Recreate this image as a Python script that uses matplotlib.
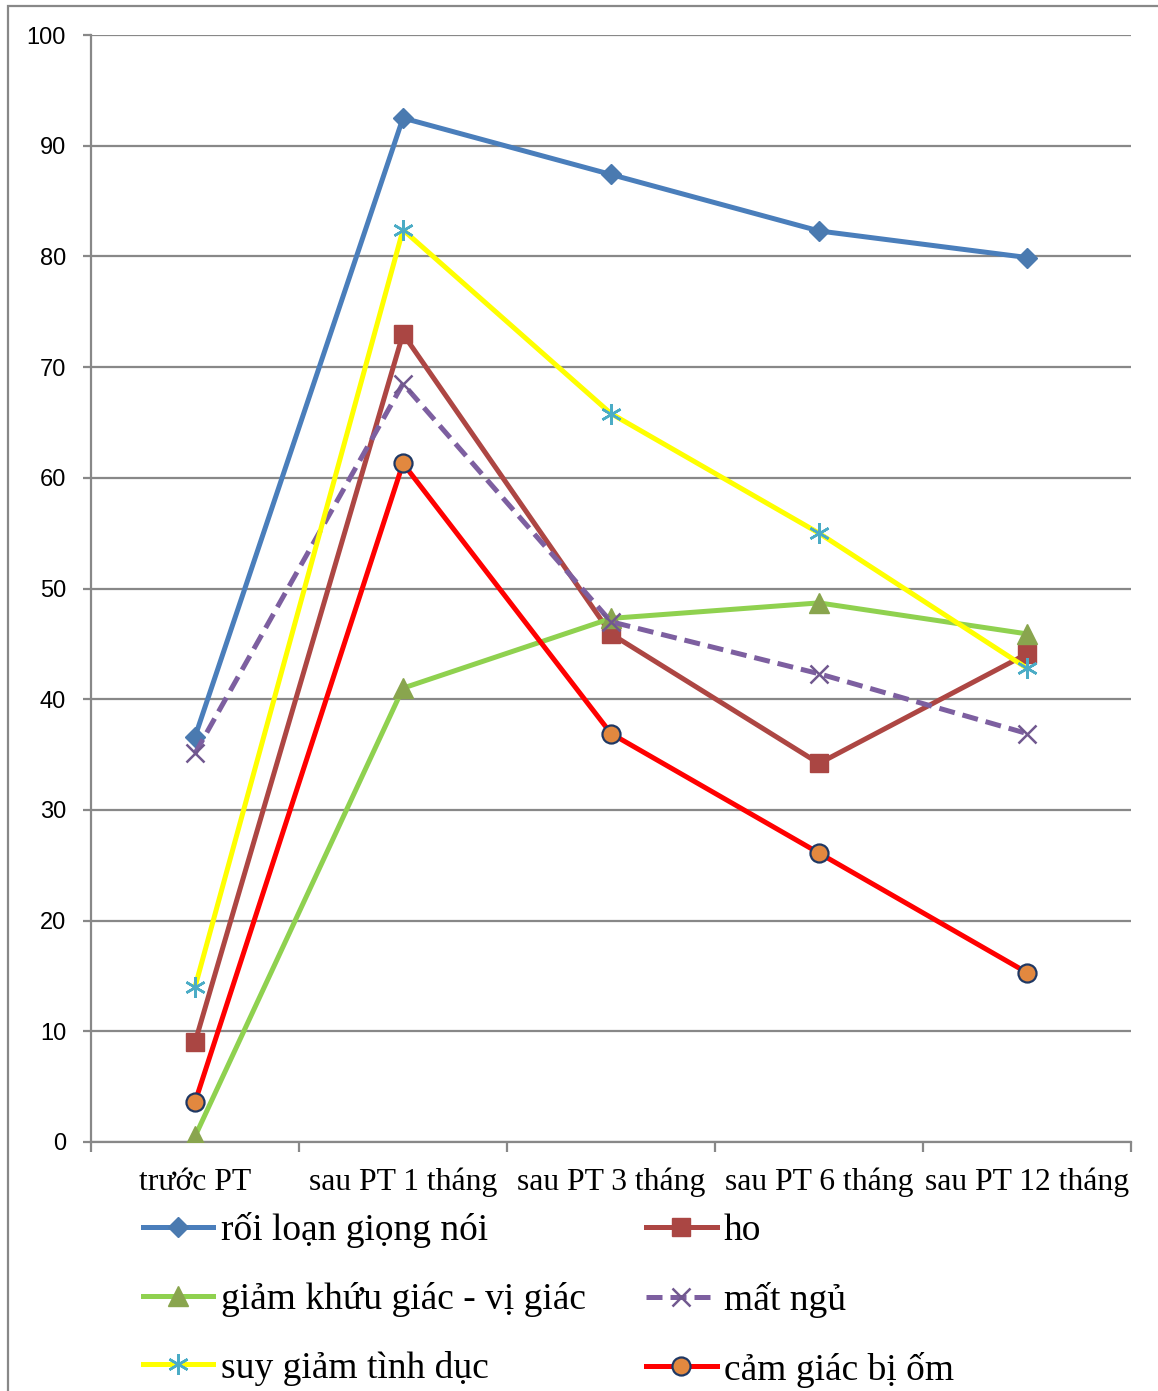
import numpy as np
import matplotlib

matplotlib.use("Agg")

import matplotlib.pyplot as plt
from matplotlib.patches import Rectangle

# categories and percentages per symptom
categories = ["trước PT", "sau PT 1 tháng", "sau PT 3 tháng", "sau PT 6 tháng", "sau PT 12 tháng"]
roi_loan_giong_noi = [36.6, 92.5, 87.4, 82.3, 79.9]
ho = [9.0, 73.0, 45.9, 34.2, 44.1]
giam_khuu_giac = [0.5, 41.0, 47.3, 48.7, 45.9]
mat_ngu = [35.1, 68.5, 47.0, 42.3, 36.9]
suy_giam_tinh_duc = [14.0, 82.4, 65.8, 55.0, 42.8]
cam_giac_bi_om = [3.6, 61.3, 36.9, 26.1, 15.3]

labels = ["rối loạn giọng nói", "ho", "giảm khứu giác - vị giác",
          "mất ngủ", "suy giảm tình dục", "cảm giác bị ốm"]

W, H = 1158, 1391
fig = plt.figure(figsize=(W / 100, H / 100), dpi=100)

# outer chart frame (top and left edges visible)
fig.patches.append(Rectangle((8 / W, -0.1), 1.2, (H - 6) / H + 0.1, transform=fig.transFigure,
                             fill=False, edgecolor="#888888", linewidth=1.6))

ax = fig.add_axes([91 / W, 1 - 1142 / H, (1131 - 91) / W, (1142 - 35) / H])

x = np.arange(len(categories)) + 0.5
grid_c = "#888888"

ax.plot(x, roi_loan_giong_noi, color="#4A7EBB", lw=3.6, marker="D", ms=10,
        mfc="#4A7AB0", mec="#4A7AB0", label=labels[0], zorder=3)
ax.plot(x, ho, color="#AD4643", lw=3.6, marker="s", ms=13,
        mfc="#AA4643", mec="#AA4643", label=labels[1], zorder=3)
ax.plot(x, giam_khuu_giac, color="#8FD14F", lw=3.6, marker="^", ms=14,
        mfc="#89A54E", mec="#89A54E", label=labels[2], zorder=3)
ax.plot(x, mat_ngu, color="#7D5FA0", lw=3.6, ls=(0, (3.2, 1.6)), marker="x", ms=13, mew=1.8,
        mfc="#71588F", mec="#71588F", label=labels[3], zorder=3)
ax.plot(x, suy_giam_tinh_duc, color="#FFFF00", lw=3.6, marker=(6, 2, 0), ms=15, mew=1.8,
        mfc="#4BACC6", mec="#4BACC6", label=labels[4], zorder=3)
ax.plot(x, cam_giac_bi_om, color="#FF0000", lw=3.6, marker="o", ms=13, mew=1.6,
        mfc="#E2883F", mec="#1F3864", label=labels[5], zorder=3)

ax.set_xlim(0, len(categories))
ax.set_ylim(0, 100)
ax.set_yticks(np.arange(0, 101, 10))
ax.yaxis.grid(True, color=grid_c, lw=1.6)
ax.set_axisbelow(True)

ax.set_xticks(x)
ax.set_xticklabels(categories, fontfamily="Liberation Serif", fontsize=22.8)
ax.set_xticks(np.arange(len(categories) + 1), minor=True)
ax.tick_params(axis="x", which="major", length=0, pad=18.5)
ax.tick_params(axis="x", which="minor", length=7, width=1.6, color=grid_c, direction="out")
ax.tick_params(axis="y", length=6, width=1.6, color=grid_c, pad=12, labelsize=17)
for t in ax.get_yticklabels():
    t.set_fontfamily("Liberation Sans")

for side in ["top", "right"]:
    ax.spines[side].set_visible(False)
for side in ["left", "bottom"]:
    ax.spines[side].set_color(grid_c)
    ax.spines[side].set_linewidth(1.6)

# legend filled row by row: reorder so the two columns read left-to-right
handles, leg_labels = ax.get_legend_handles_labels()
order = [0, 2, 4, 1, 3, 5]
leg = fig.legend([handles[i] for i in order], [leg_labels[i] for i in order],
                 loc="upper left", bbox_to_anchor=(143 / W, 1 - 1212 / H), ncol=2,
                 frameon=False, prop={"family": "Liberation Serif", "size": 27},
                 handlelength=1.87, handletextpad=0.2, labelspacing=0.9,
                 columnspacing=1.62, borderpad=0, borderaxespad=0)

fig.savefig("out.png", dpi=100)
